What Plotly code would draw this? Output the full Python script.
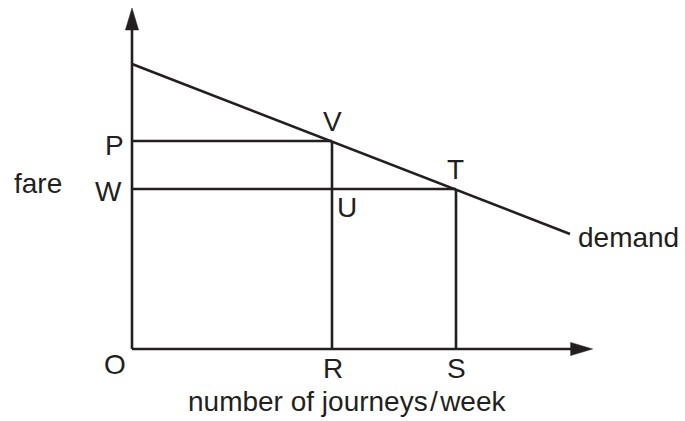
import plotly.graph_objects as go

# quantities (number of journeys / week) and fares, in chart units
quantity_R = 10.0
quantity_S = 16.2
fare_P = 10.4
fare_W = 8.0

demand_quantity = [0.0, 21.9]
demand_fare = [14.25, 5.75]

x_axis_end = 23.03
y_axis_end = 17.05

ink = "#231f20"
font = dict(family="Liberation Sans, Arial, sans-serif", size=28, color=ink)
lw = 2.6

fig = go.Figure()


def seg(xs, ys):
    fig.add_trace(go.Scatter(x=xs, y=ys, mode="lines",
                             line=dict(color=ink, width=lw),
                             hoverinfo="skip", showlegend=False))


# axes
seg([0, x_axis_end - 1.0], [0, 0])
seg([0, 0], [0, y_axis_end - 1.0])

# arrowheads (length 1.1, half width 0.33 units)
head_len, head_half = 1.1, 0.33
fig.add_trace(go.Scatter(
    x=[x_axis_end, x_axis_end - head_len, x_axis_end - head_len, x_axis_end],
    y=[0, head_half, -head_half, 0], mode="lines", fill="toself",
    fillcolor=ink, line=dict(color=ink, width=0.5),
    hoverinfo="skip", showlegend=False))
fig.add_trace(go.Scatter(
    x=[0, head_half, -head_half, 0],
    y=[y_axis_end, y_axis_end - head_len, y_axis_end - head_len, y_axis_end],
    mode="lines", fill="toself", fillcolor=ink, line=dict(color=ink, width=0.5),
    hoverinfo="skip", showlegend=False))

# demand curve
seg(demand_quantity, demand_fare)

# guide lines
seg([0, quantity_R], [fare_P, fare_P])
seg([quantity_R, quantity_R], [0, fare_P])
seg([0, quantity_S], [fare_W, fare_W])
seg([quantity_S, quantity_S], [0, fare_W])


def label(text, x, y, dx=0, dy=0, anchor="center"):
    fig.add_annotation(x=x, y=y, text=text, showarrow=False, font=font,
                       xanchor=anchor, yanchor="middle", xshift=dx, yshift=dy)


label("V", quantity_R, fare_P, 0, 20)
label("T", quantity_S, fare_W, -1, 20)
label("U", quantity_R, fare_W, 14.5, -18.5)
label("P", 0, fare_P, -18, -4.5)
label("W", 0, fare_W, -24, -2)
label("fare", 0, fare_W, -94.5, 6)
label("O", 0, 0, -17, -15.5)
label("R", quantity_R, 0, 0.5, -19)
label("S", quantity_S, 0, 0, -19)
label("demand", demand_quantity[1], demand_fare[1], 6, -3, anchor="left")
label("number of journeys\u200a/\u200aweek", quantity_R, 0, 15, -52)

fig.update_layout(
    width=685, height=421,
    margin=dict(l=122, r=0, t=0, b=62, autoexpand=False),
    paper_bgcolor="white", plot_bgcolor="white",
    xaxis=dict(range=[-0.5, 27.65], visible=False, fixedrange=True),
    yaxis=dict(range=[-0.5, 17.45], visible=False, fixedrange=True),
    showlegend=False,
)

# page body has a default 8px margin; drop it so the figure sits at 0,0
fig.write_html("out.html", config={"displayModeBar": False},
               post_script="document.body.style.margin='0';")
